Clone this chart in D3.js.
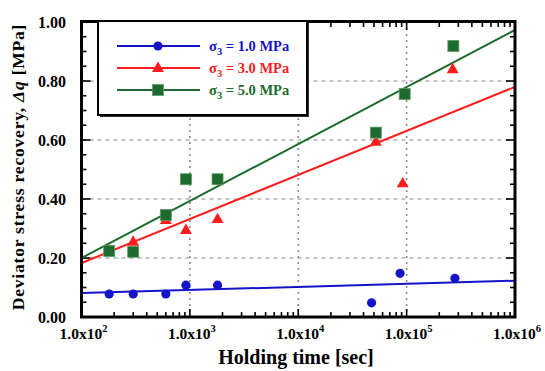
<!DOCTYPE html>
<html>
<head>
<meta charset="UTF-8">
<script src="https://cdn.jsdelivr.net/npm/d3@7"></script>
<style>
  body { margin: 0; background: #fff; }
  text { font-family: 'Liberation Serif', 'Times New Roman', serif; font-weight: bold; }
</style>
</head>
<body>
<svg id="chart" width="545" height="371"></svg>
<script>
// holding times [sec] and recovered deviator stress [MPa]
const timesLow = [180, 300, 600, 920, 1800, 47500, 87000, 279000];
const q1 = [0.078, 0.078, 0.078, 0.108, 0.108, 0.048, 0.148, 0.131];
const timesMid = [180, 300, 600, 920, 1800, 52000, 92000, 266000];
const q3 = [0.225, 0.255, 0.329, 0.295, 0.332, 0.594, 0.453, 0.840];
const timesHigh = [180, 300, 600, 920, 1800, 52000, 96000, 270000];
const q5 = [0.224, 0.221, 0.346, 0.467, 0.467, 0.625, 0.756, 0.919];

// regression lines: value at 1e2 s and at 1e6 s
const fitEnds = [1e2, 1e6];
const fit1 = [0.081, 0.123];
const fit3 = [0.183, 0.780];
const fit5 = [0.200, 0.973];

const seriesNames = ['1.0 MPa', '3.0 MPa', '5.0 MPa'];
const xTickExps = [2, 3, 4, 5, 6];
const yTicks = [0, 0.2, 0.4, 0.6, 0.8, 1.0];

const series = [
  { name: seriesNames[0], t: timesLow, q: q1, fit: fit1, color: '#1414c8', shape: 'circle' },
  { name: seriesNames[1], t: timesMid, q: q3, fit: fit3, color: '#ff1c1c', shape: 'triangle' },
  { name: seriesNames[2], t: timesHigh, q: q5, fit: fit5, color: '#1d6b2e', shape: 'square' }
];

const pL = 81.5, pR = 515, pT = 22, pB = 317;
const svg = d3.select('#chart');

const x = d3.scaleLog().domain([1e2, 1e6]).range([pL, pR]);
const y = d3.scaleLinear().domain([0, 1]).range([pB, pT]);

// grid
const grid = svg.append('g').attr('stroke', '#8a8a8a').attr('stroke-width', 1.2);
[0.2, 0.4, 0.6, 0.8].forEach(v => {
  grid.append('line').attr('x1', pL).attr('x2', pR).attr('y1', y(v)).attr('y2', y(v))
    .attr('stroke-dasharray', '4,4');
});
[1e3, 1e4, 1e5].forEach(v => {
  grid.append('line').attr('x1', x(v)).attr('x2', x(v)).attr('y1', pT).attr('y2', pB)
    .attr('stroke-dasharray', '2,4').attr('stroke-width', 1.6);
});

// ticks (inside, on all four sides)
const minorX = [];
for (let e = 2; e < 6; e++) for (let k = 2; k <= 9; k++) minorX.push(k * Math.pow(10, e));
const minorY = d3.range(0, 1.0001, 0.05).filter(v => Math.abs(v * 5 - Math.round(v * 5)) > 1e-6);
const ticks = svg.append('g').attr('stroke', '#000').attr('stroke-width', 1.6);
xTickExps.forEach(e => {
  const px = x(Math.pow(10, e));
  ticks.append('line').attr('x1', px).attr('x2', px).attr('y1', pB).attr('y2', pB - 8);
  ticks.append('line').attr('x1', px).attr('x2', px).attr('y1', pT).attr('y2', pT + 8);
});
minorX.forEach(v => {
  ticks.append('line').attr('x1', x(v)).attr('x2', x(v)).attr('y1', pB).attr('y2', pB - 5);
  ticks.append('line').attr('x1', x(v)).attr('x2', x(v)).attr('y1', pT).attr('y2', pT + 5);
});
yTicks.forEach(v => {
  ticks.append('line').attr('x1', pL).attr('x2', pL + 9).attr('y1', y(v)).attr('y2', y(v));
  ticks.append('line').attr('x1', pR).attr('x2', pR - 9).attr('y1', y(v)).attr('y2', y(v));
});
minorY.forEach(v => {
  ticks.append('line').attr('x1', pL).attr('x2', pL + 5).attr('y1', y(v)).attr('y2', y(v));
  ticks.append('line').attr('x1', pR).attr('x2', pR - 5).attr('y1', y(v)).attr('y2', y(v));
});

// fitted lines
const line = d3.line().x(d => x(d[0])).y(d => y(d[1]));
series.forEach(s => {
  svg.append('path').datum(fitEnds.map((t, i) => [t, s.fit[i]]))
    .attr('d', line).attr('fill', 'none').attr('stroke', s.color).attr('stroke-width', 2);
});

// markers
function marker(g, shape, color, cx, cy) {
  if (shape === 'circle') {
    g.append('circle').attr('cx', cx).attr('cy', cy).attr('r', 4.6).attr('fill', color);
  } else if (shape === 'triangle') {
    g.append('path').attr('d', d3.symbol(d3.symbolTriangle, 62)()).attr('transform', `translate(${cx},${cy + 0.5})`)
      .attr('fill', color);
  } else {
    g.append('rect').attr('x', cx - 5.5).attr('y', cy - 5.5).attr('width', 11).attr('height', 11)
      .attr('fill', color).attr('stroke', '#5f9a67').attr('stroke-width', 0.8);
  }
}
const pts = svg.append('g');
series.forEach(s => {
  s.t.forEach((t, i) => marker(pts, s.shape, s.color, x(t), y(s.q[i])));
});

// frame
svg.append('rect').attr('x', pL).attr('y', pT - 0.5).attr('width', pR - pL).attr('height', pB - pT + 0.5)
  .attr('fill', 'none').attr('stroke', '#000').attr('stroke-width', 3);

// legend
const lg = svg.append('g');
lg.append('rect').attr('x', 100).attr('y', 23).attr('width', 209).attr('height', 94).attr('fill', '#333');
lg.append('rect').attr('x', 98).attr('y', 21).attr('width', 209).attr('height', 94)
  .attr('fill', '#fff').attr('stroke', '#000').attr('stroke-width', 2);
series.forEach((s, i) => {
  const ly = 46 + i * 22;
  lg.append('line').attr('x1', 117).attr('x2', 200).attr('y1', ly).attr('y2', ly)
    .attr('stroke', s.color).attr('stroke-width', 2);
  marker(lg, s.shape, s.color, 158, ly);
  const t = lg.append('text').attr('x', 209).attr('y', ly + 5).attr('fill', s.color).attr('font-size', 14.5);
  t.append('tspan').text('σ');
  t.append('tspan').attr('dy', 4).attr('font-size', 10.5).text('3');
  t.append('tspan').attr('dy', -4).text(' = ' + s.name);
});

// axis labels
const yl = svg.append('g').attr('font-size', 16).attr('fill', '#000');
yTicks.forEach(v => {
  yl.append('text').attr('x', 66).attr('y', y(v) + 5.5).attr('text-anchor', 'end').text(d3.format('.2f')(v));
});
xTickExps.forEach(e => {
  const t = svg.append('text').attr('x', x(Math.pow(10, e)) + 2).attr('y', 339)
    .attr('text-anchor', 'middle').attr('font-size', 15.5);
  t.append('tspan').text('1.0x10');
  t.append('tspan').attr('dy', -7).attr('font-size', 10.5).text(e);
});

svg.append('text').attr('x', 296).attr('y', 364).attr('text-anchor', 'middle').attr('font-size', 20)
  .text('Holding time [sec]');

const yt = svg.append('text').attr('transform', 'translate(24,167) rotate(-90)')
  .attr('text-anchor', 'middle').attr('font-size', 17.5).attr('letter-spacing', 0.8);
yt.append('tspan').text('Deviator stress recovery, ');
yt.append('tspan').attr('font-style', 'italic').text('Δq');
yt.append('tspan').text(' [MPa]');
</script>
</body>
</html>
